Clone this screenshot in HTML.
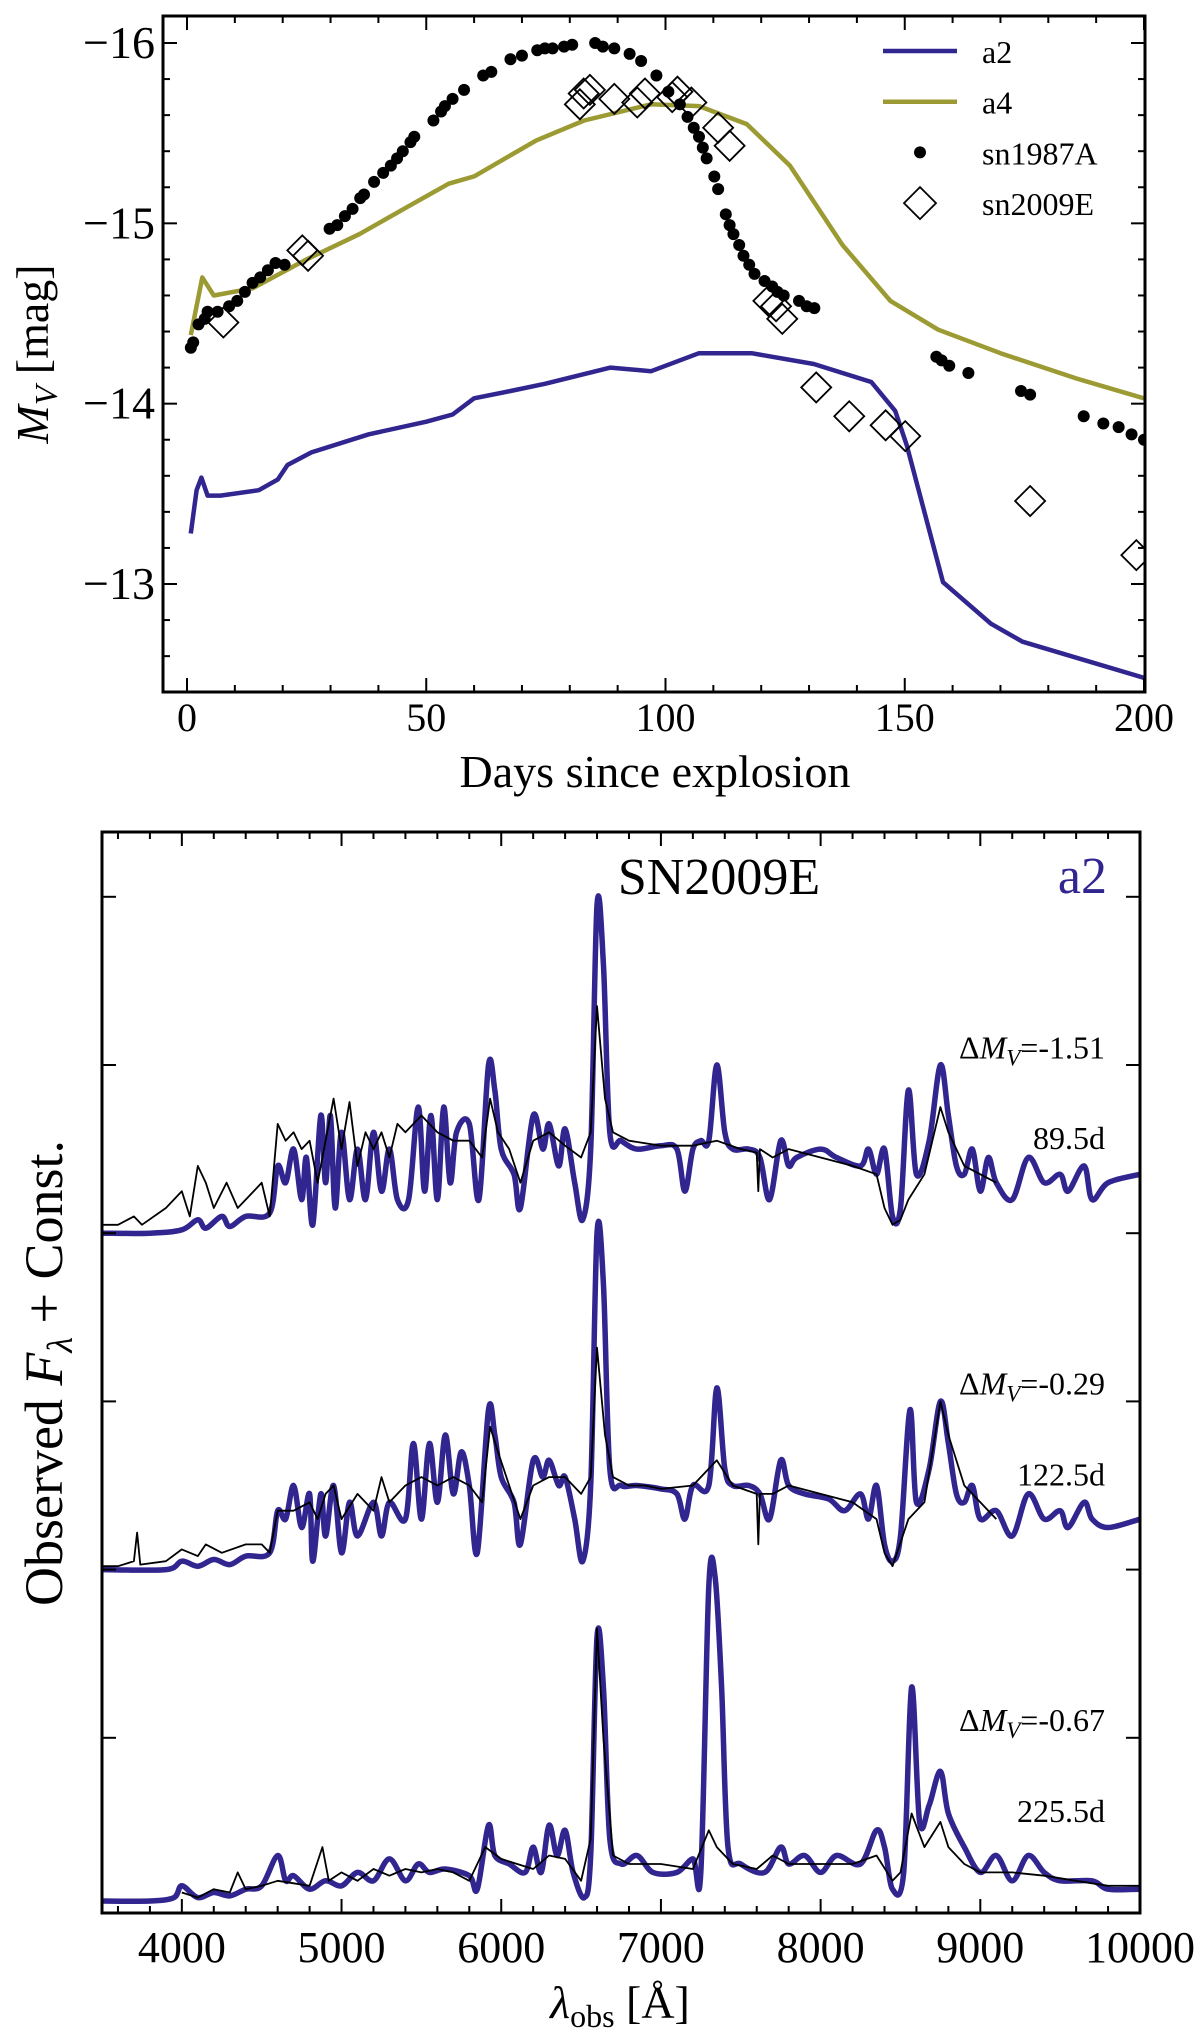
<!DOCTYPE html>
<html><head><meta charset="utf-8"><style>
body{margin:0;background:#fff;}
svg{display:block;font-family:"Liberation Serif",serif;}
</style></head><body>
<svg id="fig" width="1200" height="2038" viewBox="0 0 1200 2038">
<g id="topPanel"></g>
<g id="botPanel"></g>
</svg>
<script>
// ---- Top panel data ----
const a2Days=[0.8,2,3,4.3,7,15,19,21,26,38,50,55.5,60,67.6,74.8,88.5,97,107,118,131,143,148,150.4,158,168,174.6,200];
const a2Mag=[-13.28,-13.52,-13.59,-13.49,-13.49,-13.52,-13.58,-13.66,-13.73,-13.83,-13.9,-13.94,-14.03,-14.07,-14.11,-14.2,-14.18,-14.28,-14.28,-14.22,-14.12,-13.96,-13.77,-13.01,-12.78,-12.68,-12.48];
const a4Days=[0.8,3.2,5.6,13.7,25,36,46,54.7,60,73,83,97,107,117,126,137,147,157,170,185.8,200];
const a4Mag=[-14.38,-14.7,-14.6,-14.64,-14.8,-14.94,-15.09,-15.22,-15.26,-15.46,-15.57,-15.66,-15.65,-15.55,-15.32,-14.88,-14.57,-14.41,-14.28,-14.14,-14.03];
const sn87Days=[0.8,1.3,2.4,3.7,4.3,6.4,8.8,10.5,12.1,13.7,15.3,16.9,18.5,20.4,29.8,31.4,33,34.6,36.2,37,39.1,41,42.6,43.9,45.1,46.7,47.5,51.5,53.1,53.9,55.5,57.9,61.9,63.6,67.6,70,73.2,74.8,76.4,78.8,80.5,85.3,86.9,89.3,92.5,94.9,98.1,100.6,103,104.6,105.9,107,107.8,108.6,110.2,111,112.6,113.4,114.2,115.4,116.3,117.5,118.6,120.7,122.3,123.4,124.7,127.9,129.5,131.1,156.6,157.7,159.3,163.3,174.3,176.2,187.4,191.5,194.7,197.4,200];
const sn87Mag=[-14.31,-14.34,-14.44,-14.47,-14.51,-14.51,-14.54,-14.57,-14.62,-14.67,-14.7,-14.74,-14.78,-14.77,-14.97,-14.99,-15.04,-15.08,-15.14,-15.16,-15.23,-15.28,-15.32,-15.36,-15.4,-15.45,-15.48,-15.57,-15.62,-15.65,-15.69,-15.74,-15.82,-15.84,-15.91,-15.93,-15.96,-15.97,-15.97,-15.98,-15.99,-16.0,-15.98,-15.97,-15.94,-15.9,-15.82,-15.73,-15.66,-15.59,-15.53,-15.48,-15.42,-15.36,-15.26,-15.19,-15.05,-14.99,-14.94,-14.88,-14.82,-14.77,-14.72,-14.68,-14.65,-14.62,-14.6,-14.57,-14.54,-14.53,-14.26,-14.24,-14.21,-14.17,-14.07,-14.05,-13.93,-13.89,-13.87,-13.83,-13.8];
const sn09Days=[7.6,24.1,25.3,82.1,82.9,84.2,89.3,94.1,95.7,101.4,102.5,105.4,111,113.4,121.5,123.1,124.4,131.5,138.4,146,150.1,176.2,198.4];
const sn09Mag=[-14.45,-14.85,-14.82,-15.66,-15.72,-15.74,-15.69,-15.67,-15.72,-15.7,-15.73,-15.67,-15.53,-15.43,-14.57,-14.54,-14.47,-14.09,-13.93,-13.88,-13.82,-13.46,-13.16];
const topXTicks=[0,50,100,150,200];
const topYTicks=[-16,-15,-14,-13];

// ---- Bottom panel data ----
const specOffsets=[4,2,0];
const specDays=["89.5d","122.5d","225.5d"];
const specDM=["-1.51","-0.29","-0.67"];
const m1W=[3500,3800,4000,4100,4150,4250,4300,4400,4550,4600,4650,4700,4750,4780,4820,4870,4900,4930,4960,5000,5050,5100,5150,5200,5250,5300,5350,5420,5480,5520,5560,5600,5640,5680,5720,5800,5860,5920,5960,6000,6080,6120,6200,6260,6300,6360,6400,6460,6510,6560,6600,6640,6680,6750,6850,7000,7100,7150,7200,7250,7300,7350,7400,7450,7550,7620,7680,7750,7800,7850,8000,8100,8250,8300,8350,8400,8450,8500,8550,8600,8680,8750,8800,8850,8900,8950,9000,9050,9100,9200,9300,9400,9500,9550,9650,9700,9800,10000];
const m1F=[0,0,0.02,0.08,0.03,0.1,0.04,0.1,0.12,0.4,0.3,0.5,0.2,0.45,0.05,0.7,0.3,0.7,0.15,0.6,0.2,0.5,0.2,0.6,0.25,0.5,0.2,0.2,0.75,0.25,0.7,0.2,0.75,0.3,0.6,0.65,0.2,1.0,0.85,0.5,0.35,0.15,0.7,0.5,0.65,0.4,0.62,0.3,0.08,0.5,1.95,1.6,0.6,0.55,0.5,0.52,0.5,0.25,0.5,0.55,0.55,1.0,0.6,0.5,0.5,0.45,0.2,0.55,0.4,0.45,0.5,0.45,0.4,0.5,0.35,0.5,0.1,0.15,0.85,0.35,0.55,1.0,0.7,0.4,0.35,0.5,0.25,0.45,0.3,0.2,0.45,0.3,0.35,0.25,0.4,0.2,0.3,0.35];
const o1W=[3500,3600,3700,3750,3900,4000,4050,4100,4150,4200,4280,4350,4450,4500,4550,4600,4650,4700,4750,4800,4850,4900,4950,5000,5050,5100,5150,5200,5250,5300,5350,5400,5500,5600,5700,5800,5880,5930,5980,6050,6120,6200,6300,6400,6500,6560,6600,6650,6700,6800,7000,7200,7350,7500,7600,7610,7620,7700,7800,8000,8200,8350,8400,8450,8500,8550,8650,8750,8800,8900,9000,9100];
const o1F=[0.05,0.05,0.1,0.05,0.15,0.25,0.1,0.4,0.3,0.15,0.3,0.15,0.25,0.3,0.1,0.65,0.55,0.6,0.5,0.55,0.3,0.55,0.8,0.5,0.78,0.4,0.6,0.5,0.6,0.45,0.65,0.6,0.7,0.6,0.55,0.55,0.45,0.8,0.6,0.5,0.3,0.55,0.6,0.52,0.45,0.6,1.35,0.8,0.6,0.55,0.52,0.52,0.55,0.5,0.48,0.25,0.5,0.45,0.5,0.45,0.4,0.35,0.15,0.05,0.08,0.2,0.35,0.75,0.6,0.4,0.35,0.3];
const m2W=[3500,3900,4000,4100,4200,4300,4400,4550,4600,4650,4700,4750,4800,4820,4870,4900,4950,5000,5050,5100,5200,5250,5300,5400,5450,5500,5550,5600,5650,5700,5750,5800,5850,5920,5960,6000,6080,6120,6200,6260,6300,6360,6400,6460,6510,6560,6600,6640,6680,6750,6850,7000,7100,7150,7200,7300,7350,7400,7450,7550,7620,7680,7750,7800,7900,8050,8150,8250,8300,8350,8400,8450,8500,8560,8600,8680,8750,8800,8850,8900,8950,9000,9100,9200,9300,9400,9500,9550,9650,9700,9800,10000];
const m2F=[0,0,0.05,0.02,0.06,0.03,0.08,0.1,0.35,0.3,0.5,0.25,0.45,0.05,0.45,0.2,0.5,0.1,0.4,0.2,0.4,0.2,0.4,0.3,0.75,0.3,0.75,0.4,0.8,0.45,0.7,0.5,0.1,0.95,0.8,0.55,0.4,0.15,0.65,0.55,0.65,0.5,0.55,0.3,0.05,0.5,2.0,1.7,0.6,0.5,0.5,0.48,0.45,0.3,0.5,0.5,1.08,0.6,0.5,0.5,0.45,0.3,0.65,0.5,0.45,0.42,0.35,0.45,0.3,0.5,0.15,0.05,0.2,0.95,0.4,0.6,1.0,0.75,0.45,0.4,0.5,0.3,0.35,0.2,0.45,0.3,0.35,0.25,0.4,0.3,0.25,0.3];
const o2W=[3500,3600,3700,3720,3740,3900,4000,4100,4150,4250,4400,4500,4550,4600,4700,4800,4850,4900,4950,5000,5100,5200,5250,5300,5400,5500,5600,5700,5800,5880,5930,5980,6050,6120,6200,6300,6400,6500,6560,6600,6650,6700,6800,6900,7000,7200,7350,7450,7600,7610,7620,7700,7800,8000,8200,8350,8400,8450,8550,8650,8750,8800,8900,9000,9100];
const o2F=[0.02,0.02,0.05,0.22,0.03,0.05,0.12,0.08,0.15,0.1,0.15,0.15,0.1,0.35,0.35,0.4,0.3,0.45,0.5,0.3,0.45,0.35,0.55,0.4,0.5,0.55,0.5,0.55,0.5,0.4,0.85,0.7,0.5,0.3,0.5,0.55,0.55,0.45,0.55,1.32,0.8,0.55,0.5,0.5,0.48,0.5,0.65,0.5,0.45,0.15,0.45,0.45,0.5,0.45,0.4,0.3,0.1,0.02,0.3,0.4,1.0,0.8,0.5,0.4,0.3];
const m3W=[3500,3800,3950,4000,4100,4200,4300,4400,4500,4600,4650,4700,4800,4900,5000,5100,5200,5300,5400,5480,5550,5650,5800,5850,5920,5960,6050,6150,6200,6250,6300,6350,6400,6450,6520,6560,6600,6640,6680,6750,6850,6950,7100,7200,7250,7300,7340,7380,7420,7500,7650,7750,7800,7900,8000,8100,8250,8350,8400,8450,8520,8570,8620,8680,8750,8800,8900,9000,9100,9200,9300,9400,9500,9700,9800,10000];
const m3F=[0.03,0.03,0.05,0.12,0.05,0.08,0.06,0.1,0.12,0.3,0.15,0.18,0.1,0.15,0.12,0.2,0.15,0.28,0.15,0.25,0.2,0.22,0.18,0.1,0.48,0.3,0.25,0.2,0.35,0.2,0.48,0.3,0.45,0.2,0.05,0.3,1.6,1.3,0.4,0.25,0.3,0.2,0.2,0.28,0.2,1.9,1.95,1.3,0.35,0.25,0.2,0.35,0.25,0.3,0.2,0.3,0.25,0.45,0.35,0.1,0.2,1.3,0.5,0.6,0.8,0.55,0.35,0.2,0.3,0.15,0.3,0.2,0.15,0.15,0.1,0.1];
const o3W=[4000,4100,4200,4300,4350,4400,4500,4600,4800,4880,4920,5000,5100,5200,5300,5400,5500,5600,5700,5800,5900,6000,6100,6200,6300,6400,6500,6560,6600,6640,6700,6800,7000,7200,7300,7350,7450,7600,7700,7800,8000,8200,8350,8450,8500,8570,8650,8750,8800,8900,9000,9200,9400,9600,9800,10000];
const o3F=[0.08,0.05,0.1,0.08,0.2,0.1,0.12,0.15,0.12,0.35,0.15,0.2,0.15,0.22,0.18,0.22,0.2,0.22,0.2,0.15,0.35,0.28,0.25,0.22,0.3,0.28,0.15,0.4,1.65,1.0,0.3,0.25,0.25,0.22,0.45,0.35,0.25,0.22,0.3,0.25,0.25,0.25,0.3,0.15,0.2,0.55,0.35,0.5,0.35,0.25,0.2,0.2,0.18,0.15,0.12,0.12];
const botXTicks=[4000,5000,6000,7000,8000,9000,10000];
const botYTicks=[1,2,3,4,5,6];

const NS="http://www.w3.org/2000/svg";
function mk(parent,tag,attrs){const e=document.createElementNS(NS,tag);for(const k in attrs)e.setAttribute(k,attrs[k]);parent.appendChild(e);return e;}
const BLUE="#31258f", OLIVE="#9c9a33";
function linePath(xs,ys,fx,fy){return xs.map((v,i)=>(i?'L':'M')+fx(v).toFixed(1)+','+fy(ys[i]).toFixed(1)).join('');}
function smoothPath(xs,ys,fx,fy){
  const P=xs.map((v,i)=>[fx(v),fy(ys[i])]);
  let d='M'+P[0][0].toFixed(1)+','+P[0][1].toFixed(1);
  for(let i=0;i<P.length-1;i++){
    const p0=P[Math.max(0,i-1)],p1=P[i],p2=P[i+1],p3=P[Math.min(P.length-1,i+2)];
    const c1=[p1[0]+(p2[0]-p0[0])/6,p1[1]+(p2[1]-p0[1])/6];
    const c2=[p2[0]-(p3[0]-p1[0])/6,p2[1]-(p3[1]-p1[1])/6];
    d+='C'+c1[0].toFixed(1)+','+c1[1].toFixed(1)+' '+c2[0].toFixed(1)+','+c2[1].toFixed(1)+' '+p2[0].toFixed(1)+','+p2[1].toFixed(1);
  }
  return d;
}

// ---- Top panel ----
const topG=document.getElementById('topPanel');
const TL=163,TR=1145,TT=16,TB=692;
const tx=d=>187+d*(1144-187)/200;
const ty=m=>43+(m+16)*(584-43)/3;
let cp=mk(topG,'clipPath',{id:'tclip'});mk(cp,'rect',{x:TL,y:TT,width:TR-TL,height:TB-TT});
let g=mk(topG,'g',{'clip-path':'url(#tclip)'});
let p=mk(g,'path',{d:linePath(a4Days,a4Mag,tx,ty),fill:'none',stroke:OLIVE,'stroke-width':4.5,'stroke-linejoin':'round'});


p=mk(g,'path',{d:linePath(a2Days,a2Mag,tx,ty),fill:'none',stroke:BLUE,'stroke-width':4.5,'stroke-linejoin':'round'});


sn87Days.forEach((d,i)=>{const c=mk(g,'circle',{cx:tx(d),cy:ty(sn87Mag[i]),r:6,fill:'#000'});

});
sn09Days.forEach((d,i)=>{const x=tx(d),y=ty(sn09Mag[i]),s=15;const c=mk(g,'path',{d:`M${x},${y-s}L${x+s},${y}L${x},${y+s}L${x-s},${y}Z`,fill:'none',stroke:'#000','stroke-width':1.8});

});
mk(topG,'rect',{x:TL,y:TT,width:TR-TL,height:TB-TT,fill:'none',stroke:'#000','stroke-width':3});
for(let d=0;d<=200;d+=10){const maj=d%50===0,l=maj?14:7;mk(topG,'line',{x1:tx(d),x2:tx(d),y1:TB,y2:TB-l,stroke:'#000','stroke-width':2});mk(topG,'line',{x1:tx(d),x2:tx(d),y1:TT,y2:TT+l,stroke:'#000','stroke-width':2});}
for(let k=-16.0;k<=-12.4;k+=0.2){const m=Math.round(k*10)/10,maj=Math.abs(m-Math.round(m))<0.01,l=maj?14:7;mk(topG,'line',{x1:TL,x2:TL+l,y1:ty(m),y2:ty(m),stroke:'#000','stroke-width':2});mk(topG,'line',{x1:TR,x2:TR-l,y1:ty(m),y2:ty(m),stroke:'#000','stroke-width':2});}
topXTicks.forEach(v=>{const t=mk(topG,'text',{x:tx(v),y:731,'font-size':40,'text-anchor':'middle'});t.textContent=v;

});
topYTicks.forEach(v=>{const t=mk(topG,'text',{x:155,y:ty(v)+15,'font-size':46,'text-anchor':'end'});t.textContent='\u2212'+Math.abs(v);

});
let t=mk(topG,'text',{x:655,y:787,'font-size':46,'text-anchor':'middle'});t.textContent='Days since explosion';


t=mk(topG,'text',{x:0,y:0,'font-size':46,'text-anchor':'middle',transform:'translate(48,354) rotate(-90)'});
t.innerHTML='<tspan font-style="italic">M</tspan><tspan font-style="italic" font-size="32" dy="9">V</tspan><tspan dy="-9"> [mag]</tspan>';


// legend
const leg=mk(topG,'g',{});


const legNames=['a2','a4','sn1987A','sn2009E'];
legNames.forEach((n,i)=>{const y=51+i*50.7;
if(i<2)mk(leg,'line',{x1:883,x2:957,y1:y,y2:y,stroke:i?OLIVE:BLUE,'stroke-width':4.5});
else if(i===2)mk(leg,'circle',{cx:920,cy:y,r:6,fill:'#000'});
else mk(leg,'path',{d:`M920,${y-16}L936,${y}L920,${y+16}L904,${y}Z`,fill:'none',stroke:'#000','stroke-width':1.8});
const tt=mk(leg,'text',{x:982,y:y+12,'font-size':32});tt.textContent=n;

});

// ---- Bottom panel ----
const botG=document.getElementById('botPanel');
const BL=102,BR=1140,BT=832,BB=1913;
const bx=w=>102+(w-3500)*(1140-102)/6500;
const by=v=>1906-v*168.2;
cp=mk(botG,'clipPath',{id:'bclip'});mk(cp,'rect',{x:BL,y:BT,width:BR-BL,height:BB-BT});
g=mk(botG,'g',{'clip-path':'url(#bclip)'});
const models=[[m1W,m1F],[m2W,m2F],[m3W,m3F]];
const obs=[[o1W,o1F],[o2W,o2F],[o3W,o3F]];
specOffsets.forEach((off,i)=>{
const fy=v=>by(v+off);
let pm=mk(g,'path',{d:smoothPath(models[i][0],models[i][1],bx,fy),fill:'none',stroke:BLUE,'stroke-width':5.5,'stroke-linejoin':'round'});


let po=mk(g,'path',{d:linePath(obs[i][0],obs[i][1],bx,fy),fill:'none',stroke:'#000','stroke-width':1.8,'stroke-linejoin':'round'});


let a=mk(botG,'text',{x:1105,y:by(off+1.04),'font-size':32,'text-anchor':'end'});
a.innerHTML='Δ<tspan font-style="italic">M</tspan><tspan font-style="italic" font-size="23" dy="7">V</tspan><tspan dy="-7">='+specDM[i]+'</tspan>';


let b=mk(botG,'text',{x:1105,y:by(off+0.5),'font-size':32,'text-anchor':'end'});b.textContent=specDays[i];


});
mk(botG,'rect',{x:BL,y:BT,width:BR-BL,height:BB-BT,fill:'none',stroke:'#000','stroke-width':3});
for(let w=3600;w<=10000;w+=200){const maj=w%1000===0,l=maj?14:7;mk(botG,'line',{x1:bx(w),x2:bx(w),y1:BB,y2:BB-l,stroke:'#000','stroke-width':2});mk(botG,'line',{x1:bx(w),x2:bx(w),y1:BT,y2:BT+l,stroke:'#000','stroke-width':2});}
botYTicks.forEach(v=>{mk(botG,'line',{x1:BL,x2:BL+14,y1:by(v),y2:by(v),stroke:'#000','stroke-width':2});mk(botG,'line',{x1:BR,x2:BR-14,y1:by(v),y2:by(v),stroke:'#000','stroke-width':2});});
botXTicks.forEach(v=>{const t=mk(botG,'text',{x:bx(v),y:1962,'font-size':44,'text-anchor':'middle'});t.textContent=v;

});
t=mk(botG,'text',{x:620,y:2018,'font-size':46,'text-anchor':'middle'});
t.innerHTML='<tspan font-style="italic">λ</tspan><tspan font-size="32" dy="9">obs</tspan><tspan dy="-9"> [Å]</tspan>';


t=mk(botG,'text',{x:0,y:0,'font-size':54,'text-anchor':'middle',transform:'translate(62,1373) rotate(-90)'});
t.innerHTML='Observed <tspan font-style="italic">F</tspan><tspan font-style="italic" font-size="36" dy="10">λ</tspan><tspan dy="-10"> + Const.</tspan>';


t=mk(botG,'text',{x:719,y:894,'font-size':52,'text-anchor':'middle'});t.textContent='SN2009E';


t=mk(botG,'text',{x:1107,y:893,'font-size':52,'text-anchor':'end',fill:BLUE});t.textContent='a2';


</script>
</body></html>
